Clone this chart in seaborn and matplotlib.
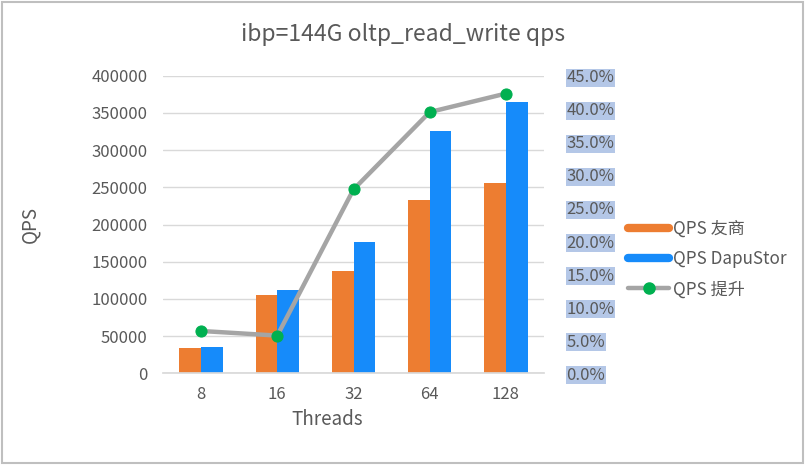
import numpy as np
import pandas as pd
import seaborn as sns
import matplotlib.pyplot as plt
from matplotlib.lines import Line2D
from matplotlib.patches import Rectangle

threads = ['8', '16', '32', '64', '128']
qps_youshang = [34000, 105200, 137500, 233000, 255800]
qps_dapustor = [35800, 112000, 176500, 325700, 364700]
qps_gain = [6.4, 5.7, 27.8, 39.5, 42.3]  # percent
series_names = ['QPS 友商', 'QPS DapuStor', 'QPS 提升']

sns.set_theme(style='white')
plt.rcParams['font.family'] = ['Noto Sans CJK SC', 'DejaVu Sans']
grey = '#595959'
orange, blue, line_grey, green = '#ed7d31', '#168bfa', '#a5a5a5', '#00b050'

df = pd.DataFrame({
    'Threads': threads * 2,
    'QPS': qps_youshang + qps_dapustor,
    'series': [series_names[0]] * 5 + [series_names[1]] * 5,
})

fig = plt.figure(figsize=(8.06, 4.65), dpi=100)
ax = fig.add_axes([163 / 806, 1 - 373.3 / 465, (544 - 163) / 806, (373.3 - 75.7) / 465])
sns.barplot(data=df, x='Threads', y='QPS', hue='series', palette=[orange, blue],
            width=0.57, gap=0, saturation=1, linewidth=0, ax=ax, legend=False)
ax.set_ylim(0, 400000)
ax.set_yticks(np.arange(0, 400001, 50000))
ax.set_yticklabels([str(v) for v in range(0, 400001, 50000)])
ax.yaxis.grid(True, color='#d9d9d9', lw=1)
ax.set_axisbelow(True)
for s in ['top', 'left', 'right']:
    ax.spines[s].set_visible(False)
ax.spines['bottom'].set_color('#d9d9d9')
ax.tick_params(axis='y', length=0, pad=11, labelsize=12, labelcolor=grey)
ax.tick_params(axis='x', length=0, pad=9, labelsize=12, labelcolor=grey)
ax.set_xlabel('Threads', fontsize=13.5, color=grey)
ax.xaxis.set_label_coords((327 - 163) / (544 - 163), -0.12)
ax.set_ylabel('QPS', fontsize=13.5, color=grey)
ax.yaxis.set_label_coords(-(163 - 40) / (544 - 163), 0.5)

ax2 = ax.twinx()
sns.lineplot(x=np.arange(5), y=qps_gain, ax=ax2, color=line_grey, lw=3.2, marker='o',
             markersize=8, markerfacecolor=green, markeredgecolor=green)
ax2.set_ylim(0, 45)
ax2.set_yticks(np.arange(0, 46, 5))
ax2.set_yticklabels([f'{v:.1f}%' for v in np.arange(0, 46, 5)])
ax2.tick_params(axis='y', length=0, pad=16, labelsize=12, labelcolor=grey)
for lbl in ax2.get_yticklabels():
    lbl.set_bbox(dict(facecolor='#b4c7e7', edgecolor='none', pad=0.5))
for s in ax2.spines.values():
    s.set_visible(False)
ax.set_xlim(-0.5, 4.5)

handles = [
    Line2D([], [], color=orange, lw=6),
    Line2D([], [], color=blue, lw=6),
    Line2D([], [], color=line_grey, lw=3.2, marker='o', markersize=8,
           markerfacecolor=green, markeredgecolor=green),
]
leg = fig.legend(handles, series_names, loc='center left', bbox_to_anchor=(613 / 806, 1 - 259 / 465),
                 frameon=False, fontsize=12.3, handlelength=2.4, handletextpad=0.2, labelspacing=0.72)
for t in leg.get_texts():
    t.set_color(grey)

fig.text(0.5, 1 - 35 / 465, 'ibp=144G oltp_read_write qps', ha='center', va='center',
         fontsize=16.5, color=grey)
fig.patches.append(Rectangle((0.002, 0.004), 0.994, 0.992, transform=fig.transFigure,
                             fill=False, edgecolor='#bfbfbf', lw=1.5))

fig.savefig('out.png', dpi=100)
